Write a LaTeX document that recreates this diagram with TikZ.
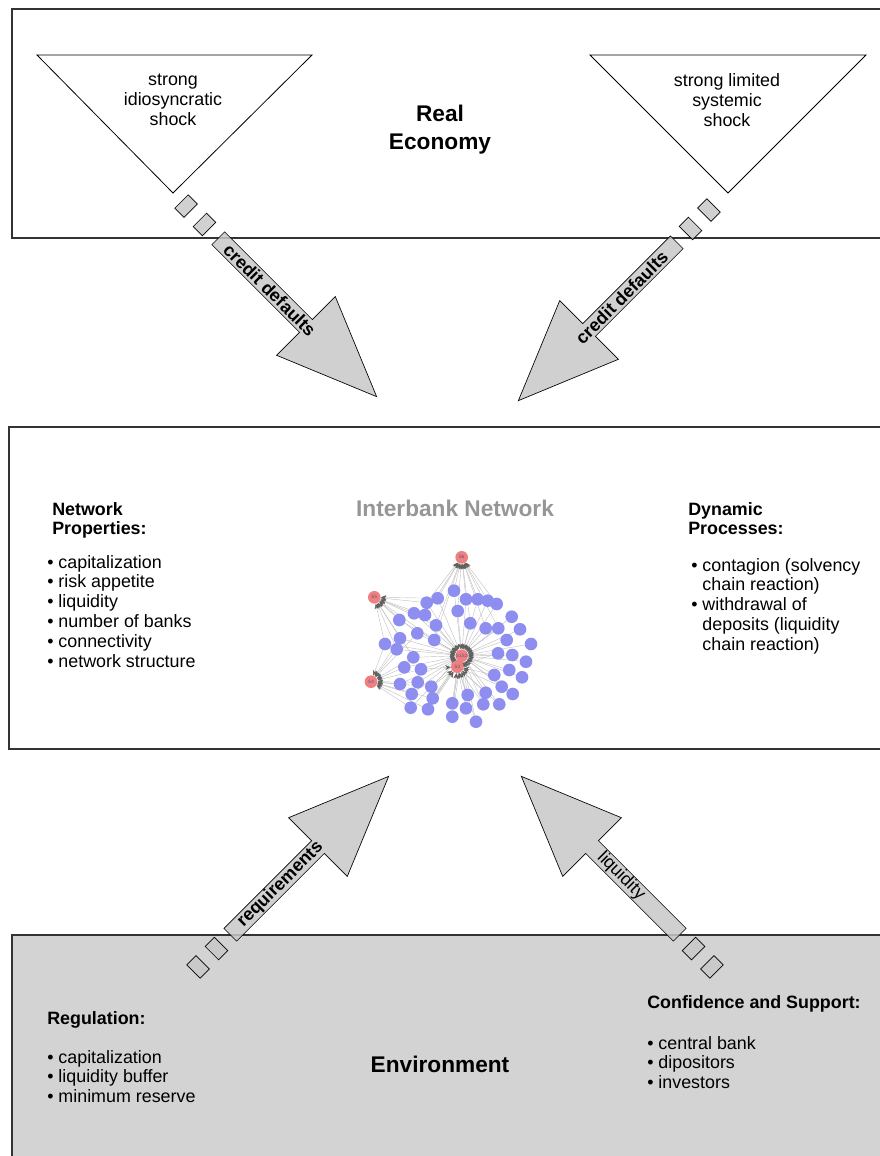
\documentclass[tikz,border=0pt]{standalone}
\usepackage{fontspec}
\setmainfont{Liberation Sans}
\usetikzlibrary{arrows.meta,backgrounds}

\definecolor{arrowgray}{RGB}{200,200,200}
\definecolor{envgray}{RGB}{211,211,211}
\definecolor{bankblue}{RGB}{142,142,240}
\definecolor{bankred}{RGB}{240,128,128}
\definecolor{titlegray}{RGB}{150,150,150}

\tikzset{
  panel/.style={draw=black!80, line width=0.8pt},
  shock/.style={draw=black, line width=0.6pt},
  body/.style={font=\fontsize{13.4}{14.85}\selectfont, inner sep=0pt},
  head/.style={inner sep=0pt, font=\fontsize{13.4}{14.85}\selectfont\bfseries},
  title/.style={inner sep=0pt, font=\fontsize{17}{21}\selectfont\bfseries},
  arrowlabel/.style={inner sep=0pt, font=\fontsize{13.4}{15}\selectfont\bfseries},
  flow/.style={draw=black, fill=arrowgray, fill opacity=0.85, line width=0.5pt},
  bank/.style={circle, fill=bankblue, minimum size=9.5pt, inner sep=0pt},
  redbank/.style={circle, fill=bankred, minimum size=9.5pt, inner sep=0pt,
    font=\fontsize{3.5}{4}\selectfont, text=bankblue!60!black},
  link/.style={draw=gray!50, line width=0.3pt,
    -{Stealth[length=4pt, width=3.5pt, color=gray!75!black]}},
}

% block arrow: start, direction, label position, label angle, label
\newcommand{\flowarrow}[5]{%
  \begin{scope}[shift={(#1)}, rotate=#2]
    \draw[flow] (12,-9.5) -- (25,-9.5) -- (25,9.5) -- (12,9.5) -- cycle;
    \draw[flow] (38,-9.5) -- (51,-9.5) -- (51,9.5) -- (38,9.5) -- cycle;
    \draw[flow] (64,-9) -- (188,-9) -- (188,-41.5) -- (288,0)
      -- (188,41.5) -- (188,9) -- (64,9) -- cycle;
    \node[arrowlabel, rotate=#4] at (#3,0) {#5};
  \end{scope}}

\begin{document}
\begin{tikzpicture}[x=0.75pt, y=-0.75pt]
\useasboundingbox (0,0) rectangle (880,1156);
% Panels
\draw[panel] (12,9) rectangle (890,238);
\draw[panel] (9,427) rectangle (890,749);
\draw[panel, fill=envgray] (12,935) rectangle (890,1170);

% Real economy
\draw[shock] (37,55) -- (312,55) -- (173,193) -- cycle;
\draw[shock] (590,55) -- (866,55) -- (728,193) -- cycle;
\node[body, align=center] (idio) at (173,100) {strong\\idiosyncratic\\shock};
\node[body, align=center] (syst) at (727,100) {strong limited\\systemic\\shock};
\node[title, align=center] (real) at (440,130) {Real\\Economy};

% Interbank network
\node[title, text=titlegray] (ibn) at (455,508) {Interbank Network};
\node[head, anchor=base west] (netprop) at (52,515)
  {\begin{tabular}[t]{@{}l@{}}Network\\Properties:\end{tabular}};
\node[body, anchor=base west] (netlist) at (47,568)
  {\begin{tabular}[t]{@{}l@{ }l@{}}
   \textbullet & capitalization\\
   \textbullet & risk appetite\\
   \textbullet & liquidity\\
   \textbullet & number of banks\\
   \textbullet & connectivity\\
   \textbullet & network structure
   \end{tabular}};
\node[head, anchor=base west] (dynproc) at (688,515)
  {\begin{tabular}[t]{@{}l@{}}Dynamic\\Processes:\end{tabular}};
\node[body, anchor=base west] (dynlist) at (691,571)
  {\begin{tabular}[t]{@{}l@{ }l@{}}
   \textbullet & contagion (solvency\\
               & chain reaction)\\
   \textbullet & withdrawal of\\
               & deposits (liquidity\\
               & chain reaction)
   \end{tabular}};

% Banks
\foreach \n/\x/\y in {1/454/590.7, 2/437.7/598.3, 3/466/599.3, 4/477.7/599.3,
  5/487.7/600.7, 6/496.7/604, 7/426.7/602.7, 8/414/613.3, 9/425/615,
  10/457.7/611, 11/511.7/616.7, 12/399.3/620, 13/436/625.3, 14/470.3/623.3,
  15/485.7/628.3, 16/498.3/628.3, 17/520/629.3, 18/417.3/633.3, 19/400/638.3,
  20/434.3/640, 21/506.7/640, 22/385/644, 23/396.7/649.3, 24/531/644,
  25/498/653.3, 26/512.3/655, 27/413.3/657.3, 28/526/661.7, 29/404.3/667.3,
  30/421/669.3, 31/509.3/670, 32/494.3/675, 33/522/677.3, 34/400/684,
  35/417.7/682.3, 36/431.3/686.7, 37/501.7/686.7, 38/411.7/694, 39/432.7/698.3,
  40/467.7/695, 41/485.7/692.7, 42/512.7/694, 43/452.3/703.3, 44/483.3/704.3,
  45/499.3/704.3, 46/410.7/707.7, 47/428/709.3, 48/466/708.3, 49/452.3/716.7,
  50/476/721.7}
  \node[bank] (b\n) at (\x,\y) {};
\node[redbank] (s6) at (461.7,557.3) {S6};
\node[redbank] (s5) at (374.3,597.3) {S5};
\node[redbank] (s4) at (371,681.7) {S4};
\node[redbank] (s12) at (461.7,655.7) {S1S2};
\node[redbank] (s3) at (457.3,666.7) {S3};
\begin{scope}[on background layer]
\foreach \n in {1,...,50} \draw[link] (b\n) -- (s12);
\foreach \n in {25,30,32,36,37,39,40,41,43,44,45,47,48,49,50}
  \draw[link] (b\n) -- (s3);
\foreach \n in {1,2,3,4,5,6,7,9,10,13,14,15,16,20}
  \draw[link] (b\n) -- (s6);
\foreach \n in {2,7,8,9,12,13,18,19,20,22,23,27}
  \draw[link] (b\n) -- (s5);
\foreach \n in {18,19,22,23,27,29,30,34,35,36,38,39,46,47}
  \draw[link] (b\n) -- (s4);
\end{scope}

% Environment
\node[title] (env) at (440,1064) {Environment};
\node[head, anchor=base west] (reg) at (47,1024) {Regulation:};
\node[body, anchor=base west] (reglist) at (47,1063)
  {\begin{tabular}[t]{@{}l@{ }l@{}}
   \textbullet & capitalization\\
   \textbullet & liquidity buffer\\
   \textbullet & minimum reserve
   \end{tabular}};
\node[head, anchor=base west] (conf) at (647,1008) {Confidence and Support:};
\node[body, anchor=base west] (conflist) at (647,1049)
  {\begin{tabular}[t]{@{}l@{ }l@{}}
   \textbullet & central bank\\
   \textbullet & dipositors\\
   \textbullet & investors
   \end{tabular}};

% Arrows
\coordinate (idioTip) at (173,193);
\coordinate (systTip) at (722,197);
\coordinate (regOut) at (185,980);
\coordinate (confOut) at (725,980);
\flowarrow{idioTip}{-45}{137}{-45}{credit defaults}
\flowarrow{systTip}{-135}{142}{45}{credit defaults}
\flowarrow{regOut}{45}{135}{45}{requirements}
\flowarrow{confOut}{135}{147}{-45}{\mdseries liquidity}
\end{tikzpicture}
\end{document}
